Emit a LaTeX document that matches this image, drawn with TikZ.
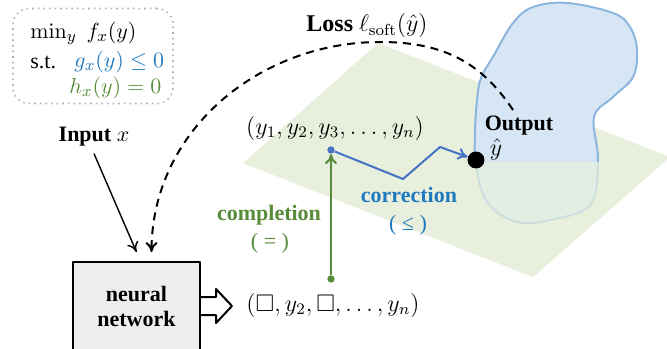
\documentclass[tikz,border=0pt]{standalone}
\usepackage{amssymb}
\usepackage{amsmath}
\usepackage[no-math]{fontspec}
\setmainfont{Liberation Serif}
\usepackage{tikz}
\usetikzlibrary{arrows.meta}
\definecolor{planecolor}{RGB}{232,240,221}
\definecolor{setfill}{RGB}{214,230,245}
\definecolor{setline}{RGB}{140,182,222}
\definecolor{corrblue}{RGB}{68,114,196}
\definecolor{corrtext}{RGB}{31,122,192}
\definecolor{complgreen}{RGB}{88,140,58}
\definecolor{nnfill}{RGB}{238,238,238}
\tikzset{
    pipeline/.style={
        x=0.5pt, y=-0.5pt,
        >={To[length=5pt,width=6pt]},
        line join = round,
        font=\fontsize{11}{13}\selectfont,
    },
    mathlabel/.style={font=\fontsize{12}{14}\selectfont},
    probbox/.style={draw=gray!60, dotted, line width=0.8pt, rounded corners=8pt,
        minimum width=80pt, minimum height=47.5pt},
    nnbox/.style={draw, fill=nnfill, line width=1pt, minimum width=63.5pt,
        minimum height=44pt, align=center, font=\fontsize{11}{12.5}\selectfont\bfseries},
    ptdot/.style={circle, inner sep=1.3pt},
}
\newcommand{\plane}{(378,43) -- (670,157) -- (533,277) -- (243,163) -- cycle}
\newcommand{\feasible}{plot[smooth cycle, tension=0.6] coordinates {
    (533,7) (567,3) (613,13) (630,27) (637,50) (633,77) (613,97) (594,117)
    (598,160) (591,204) (555,219) (517,222) (487,202) (476,165) (475,133)
    (477,100) (481,78) (494,55) (513,23)}}

\begin{document}
\begin{tikzpicture}
            [pipeline]
            \useasboundingbox (0,0) rectangle (667,348);
            \clip (0,0) rectangle (667,348);
            % plane of equality constraints and the feasible set
            \fill[planecolor] \plane;
            \filldraw[fill=setfill, draw=setline, line width=1pt] \feasible;
            \begin{scope}
                \clip (0,162) rectangle (667,348);
                \fill[planecolor, opacity=0.7] \plane;
            \end{scope}
            % problem statement
            \node[probbox] (prob) at (93,56) {};
            \node[anchor=west, inner sep=0pt] (obj) at (30,33) {$\min_y\; f_x(y)$};
            \node[anchor=west, inner sep=0pt] (st) at (30,62) {s.t.};
            \node[anchor=west, inner sep=0pt, text=corrtext] (ineq) at (74,62) {$g_x(y) \le 0$};
            \node[anchor=west, inner sep=0pt, text=complgreen] (eq) at (69,88) {$h_x(y) = 0$};
            % network
            \node[nnbox] (nn) at (136.5,306) {neural\\network};
            \node (input) at (94,137) {\textbf{Input} $x$};
            \draw[->, line width=0.7pt] (input.south) -- ([yshift=4.5pt]nn.north);
            \draw[line width=1pt, fill=white] ([yshift=4.5pt]nn.east) -- ++(15,0) -- ++(0,-8)
                -- ++(16,17) -- ++(-16,17) -- ++(0,-8) -- ++(-15,0);
            \node[mathlabel] (ypart) at (333,305) {$(\square, y_2, \square, \ldots, y_n)$};
            \node[mathlabel] (yfull) at (335,128) {$(y_1, y_2, y_3, \ldots, y_n)$};
            % completion and correction steps
            \node[ptdot, fill=complgreen] (partial) at (331,279) {};
            \node[ptdot, fill=corrblue] (full) at (331,150) {};
            \node[circle, fill=black, inner sep=3pt] (yhat) at (476,160) {};
            \draw[->, complgreen, line width=1pt] (partial) -- (full);
            \draw[->, corrblue, line width=1pt] (full) -- (403,179) -- (440,147) -- (yhat);
            \node[text=complgreen, font=\fontsize{11}{13}\selectfont\bfseries] (compl) at (269,215) {completion};
            \node[text=complgreen] (compleq) at (270,243) {( = )};
            \node[text=corrtext, font=\fontsize{11}{13}\selectfont\bfseries] (corr) at (409,195) {correction};
            \node[text=corrtext] (corrle) at (408,225) {( ≤ )};
            % output and loss
            \node[font=\fontsize{11}{13}\selectfont\bfseries] (output) at (519,126) {Output};
            \node[mathlabel] (yhatlbl) at (496,149) {$\hat{y}$};
            \node[mathlabel] (loss) at (367,26) {\textbf{Loss} $\ell_{\mathrm{soft}}(\hat{y})$};
            \coordinate (lossstart) at (513,110);
            \draw[->, dash pattern=on 4pt off 3pt, line width=1pt] (lossstart)
                .. controls (480,60) and (440,42) .. (380,42)
                .. controls (260,42) and (152,130) .. ([xshift=7.5pt, yshift=4.5pt]nn.north);
        \end{tikzpicture}
\end{document}
